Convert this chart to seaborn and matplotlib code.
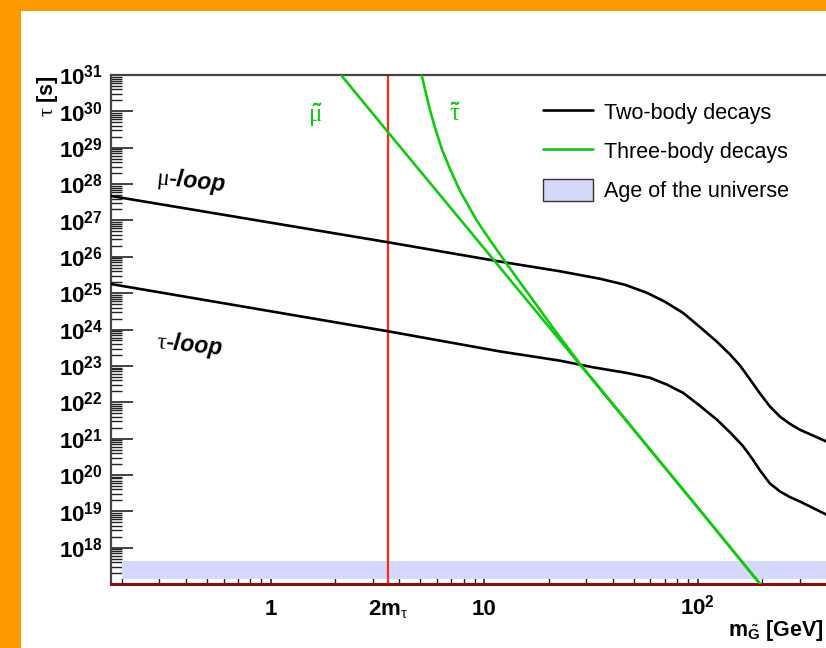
import numpy as np
import matplotlib
matplotlib.use("Agg")
import matplotlib.pyplot as plt
import seaborn as sns
from matplotlib.lines import Line2D
from matplotlib.patches import Patch, Rectangle
from matplotlib.ticker import LogLocator, NullFormatter

# gravitino mass [GeV] and lifetime [s]
mu_loop_mass = [0.178, 3.55, 11.8, 22.6, 34.8, 45.6, 57.6, 70.2, 85.5, 102, 123, 142, 158, 176,
                196, 218, 243, 270, 301, 399]
mu_loop_tau = [4.7e27, 2.5e26, 7.4e25, 4.0e25, 2.49e25, 1.70e25, 1.03e25, 5.8e24, 2.84e24, 1.19e24,
               4.6e23, 2.03e23, 1.01e23, 4.2e22, 1.72e22, 7.6e21, 4.0e21, 2.55e21, 1.75e21, 8.4e20]

tau_loop_mass = [0.178, 3.55, 11.8, 22.6, 32.4, 46.4, 59.7, 71.7, 85.5, 102, 123, 142, 163, 180,
                 196, 218, 243, 270, 301, 399]
tau_loop_tau = [1.78e25, 8.9e23, 2.5e23, 1.39e23, 9.1e22, 6.4e22, 4.7e22, 3.05e22, 1.8e22, 8.1e21,
                3.3e21, 1.46e21, 6.2e20, 2.8e20, 1.32e20, 5.8e19, 3.5e19, 2.47e19, 1.86e19, 8.2e18]

smuon_mass = [2.13, 3.55, 11.2, 28.0, 102, 196]
smuon_tau = [1e31, 2.6e29, 7.5e25, 1.1e23, 1.1e19, 1e17]

stau_mass = [5.08, 5.32, 5.56, 5.87, 6.31, 6.90, 7.69, 9.20, 10.6, 12.5, 14.4, 16.4, 21.0, 28.0,
             102, 196]
stau_tau = [1e31, 3.2e30, 1.09e30, 3.57e29, 9.4e28, 2.62e28, 6.5e27, 1.0e27, 2.93e26, 7.4e25,
            2.33e25, 8.2e24, 1.10e24, 1.15e23, 1.1e19, 1e17]

two_m_tau = 3.554
age_mass = [0.2, 399]
age_low = [1.4e17, 1.4e17]
age_high = [4.3e17, 4.3e17]

y_decades = list(range(18, 32))
x_ticks = [1, two_m_tau, 10, 100]
x_ticklabels = ["1", r"$2\mathbf{m}_{\tau}$", "10", r"$10^{2}$"]
legend_labels = ["Two-body decays", "Three-body decays", "Age of the universe"]

GREEN = "#12c812"
RED = "#ff2a1a"
BAND = "#d5d7fb"

sns.set_style("white")
plt.rcParams["font.family"] = ["Liberation Sans", "DejaVu Sans"]
plt.rcParams["text.color"] = "black"
plt.rcParams["mathtext.fontset"] = "custom"
plt.rcParams["mathtext.rm"] = "Liberation Sans:bold"
plt.rcParams["mathtext.bf"] = "Liberation Sans:bold"
plt.rcParams["mathtext.it"] = "Liberation Serif"

fig = plt.figure(figsize=(8.26, 6.48), dpi=100, facecolor="#ff9900")
fig.patches.append(Rectangle((21 / 826, 0), 1, 1 - 11 / 648, transform=fig.transFigure,
                             facecolor="white", edgecolor="none", zorder=-10))
ax = fig.add_axes([111 / 826, 64 / 648, 1 - 111 / 826, 509 / 648])
ax.set_zorder(1)

ax.fill_between(age_mass, age_low, age_high, color=BAND, lw=0, zorder=1)
ax.axvline(two_m_tau, color=RED, lw=1.6, zorder=2)

for m, t, c in [(mu_loop_mass, mu_loop_tau, "black"), (tau_loop_mass, tau_loop_tau, "black"),
                (smuon_mass, smuon_tau, GREEN), (stau_mass, stau_tau, GREEN)]:
    sns.lineplot(x=m, y=t, color=c, lw=1.9, ax=ax, estimator=None, sort=False, zorder=3)

ax.set_xscale("log")
ax.set_yscale("log")
ax.set_xlim(0.178, 399)
ax.set_ylim(1e17, 1e31)

# axes frame
for s in ["left", "top"]:
    ax.spines[s].set_color("#444444")
    ax.spines[s].set_linewidth(1.6)
ax.spines["right"].set_visible(False)
ax.spines["bottom"].set_color("#8b1010")
ax.spines["bottom"].set_linewidth(2.2)

ax.set_yticks([10.0 ** k for k in y_decades])
ax.set_yticklabels([rf"$10^{{{k}}}$" for k in y_decades], fontsize=16, color="black")
ax.yaxis.set_minor_locator(LogLocator(base=10, subs=np.arange(2, 10), numticks=100))
ax.yaxis.set_minor_formatter(NullFormatter())
ax.tick_params(axis="y", which="major", direction="in", left=True, right=False,
               length=16, width=1.2, pad=6, color="#222222")
ax.tick_params(axis="y", which="minor", direction="in", left=True, right=False,
               length=8, width=1.0, color="#222222")

ax.set_xticks(x_ticks)
ax.set_xticklabels(x_ticklabels, fontsize=16, fontweight="bold", color="black")
ax.xaxis.set_minor_locator(LogLocator(base=10, subs=np.arange(2, 10), numticks=100))
ax.xaxis.set_minor_formatter(NullFormatter())
ax.tick_params(axis="x", which="major", direction="in", bottom=True, top=False,
               length=6, width=1.2, pad=22, color="#222222")
ax.tick_params(axis="x", which="minor", direction="in", bottom=True, top=False,
               length=4, width=1.0, color="#222222")
for lab in ax.get_xticklabels():
    lab.set_verticalalignment("baseline")

ax.set_xlabel("")
ax.set_ylabel("")
fig.text(1 - 2 / 826, 1 - 636 / 648, r"$\mathbf{m}_{\tilde{\mathbf{G}}}$ [GeV]", ha="right",
         va="baseline", fontsize=15.5, fontweight="bold")
fig.text(48 / 826, 1 - 75 / 648, r"$\tau$ [s]", rotation=90, ha="center", va="top",
         fontsize=15.5, fontweight="bold")

ax.text(0.29, 1.5e28, r"$\mu$-loop", fontsize=16.5, fontweight="bold", style="italic",
        rotation=-6, rotation_mode="anchor", ha="left", va="center")
ax.text(0.29, 4.7e23, r"$\tau$-loop", fontsize=16.5, fontweight="bold", style="italic",
        rotation=-6, rotation_mode="anchor", ha="left", va="center")
ax.text(1.61, 8e29, r"$\tilde{\mu}$", fontsize=18, color=GREEN, ha="center", va="center")
ax.text(7.28, 8.5e29, r"$\tilde{\tau}$", fontsize=18, color=GREEN, ha="center", va="center")

handles = [Line2D([], [], color="black", lw=1.9), Line2D([], [], color=GREEN, lw=1.9),
           Patch(facecolor=BAND, edgecolor="#333333", lw=1.0)]
ax.legend(handles, legend_labels, loc="upper left", bbox_to_anchor=(543 / 826, 1 - 101 / 648),
          bbox_transform=fig.transFigure, frameon=False, fontsize=15.5, handlelength=2.3,
          handleheight=1.2, handletextpad=0.55, labelspacing=0.72, borderpad=0, borderaxespad=0)

fig.savefig("out.png", dpi=100, facecolor=fig.get_facecolor())
